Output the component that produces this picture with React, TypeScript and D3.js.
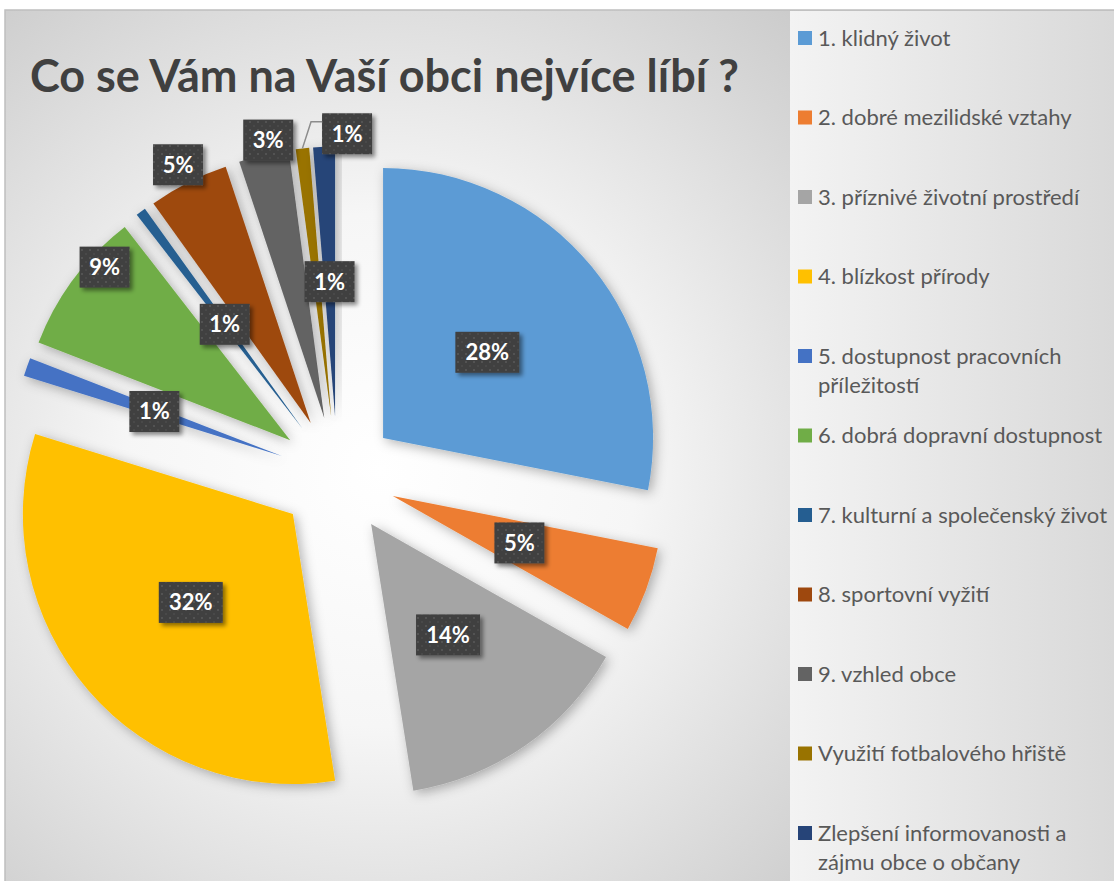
import React from "react";
import * as d3 from "d3";

const categories: string[][] = [
  ["1. klidný život"],
  ["2. dobré mezilidské vztahy"],
  ["3. příznivé životní prostředí"],
  ["4. blízkost přírody"],
  ["5. dostupnost pracovních", "příležitostí"],
  ["6. dobrá dopravní dostupnost"],
  ["7. kulturní a společenský život"],
  ["8. sportovní vyžití"],
  ["9. vzhled obce"],
  ["Využití fotbalového hřiště"],
  ["Zlepšení informovanosti a", "zájmu obce o občany"],
];
const values: number[] = [28.1, 5.1, 14.3, 32.3, 1.1, 8.6, 0.6, 4.8, 3.0, 0.8, 1.3];
const colors: string[] = [
  "#5B9BD5", "#ED7D31", "#A5A5A5", "#FFC000", "#4472C4", "#70AD47",
  "#255E91", "#9E480E", "#636363", "#997300", "#264478",
];
const title = "Co se Vám na Vaší obci nejvíce líbí ?";

// layout
const W = 1114, H = 881;
const CX = 337.5, CY = 475.5, R = 270, EXPLODE = 59;
// label placement (radius fraction from the slice vertex, optional absolute angle in degrees)
const labelPlace: { f: number; a?: number; leader?: boolean }[] = [
  { f: 0.5 }, { f: 0.5 }, { f: 0.5 }, { f: 0.5 }, { f: 0.5 },
  { f: 0.94, a: 313 }, { f: 0.48 }, { f: 1.075, a: 332.8 }, { f: 1.05, a: 348.6 },
  { f: 1.05, a: 3.2, leader: true }, { f: 0.5 },
];
const FONT = "Lato, 'Open Sans', 'DejaVu Sans', sans-serif";

export default function App() {
  const pie = d3.pie<number>().sort(null).value((d) => d).startAngle(0).endAngle(2 * Math.PI);
  const arcs = pie(values);
  const arc = d3.arc<d3.PieArcDatum<number>>().innerRadius(0).outerRadius(R);

  const legendX = 798;
  const legendY0 = 38;
  const legendStep = 79.5;

  return (
    <svg width={W} height={H} style={{ position: "absolute", left: 0, top: 0, display: "block" }}>
      <defs>
        <radialGradient id="bg" gradientUnits="userSpaceOnUse" cx={380} cy={470} r={640}>
          <stop offset="0" stopColor="#ffffff" />
          <stop offset="0.4" stopColor="#f6f6f6" />
          <stop offset="1" stopColor="#c9c9c9" />
        </radialGradient>
        <linearGradient id="lg" x1="0" y1="0" x2="1" y2="0">
          <stop offset="0" stopColor="#f3f3f3" />
          <stop offset="1" stopColor="#d9d9d9" />
        </linearGradient>
        <filter id="sliceShadow" x="-30%" y="-30%" width="160%" height="160%">
          <feDropShadow dx="3" dy="3" stdDeviation="6" floodColor="#000" floodOpacity="0.3" />
        </filter>
        <filter id="boxShadow" x="-30%" y="-30%" width="160%" height="160%">
          <feDropShadow dx="3" dy="3" stdDeviation="2" floodColor="#000" floodOpacity="0.45" />
        </filter>
        <pattern id="dots" width="8" height="8" patternUnits="userSpaceOnUse">
          <rect width="8" height="8" fill="#404040" />
          <circle cx="2" cy="2" r="0.9" fill="#5a5a5a" />
          <circle cx="6" cy="6" r="0.9" fill="#4e4e4e" />
        </pattern>
      </defs>
      <rect x={0} y={0} width={W} height={H} fill="#ffffff" />
      <rect x={5} y={10} width={W} height={H} fill="url(#bg)" stroke="#bfbfbf" strokeWidth={1.5} />
      <rect x={790} y={11} width={W - 790} height={H - 11} fill="url(#lg)" />

      <text x={30} y={92} fontFamily={FONT} fontWeight={700} fontSize={45} fill="#404040">
        {title}
      </text>

      <g>
        {arcs.map((a, i) => {
          const mid = (a.startAngle + a.endAngle) / 2;
          const tx = CX + EXPLODE * Math.sin(mid);
          const ty = CY - EXPLODE * Math.cos(mid);
          return (
            <path
              key={i}
              d={arc(a) || ""}
              transform={`translate(${tx},${ty})`}
              fill={colors[i]}
              filter="url(#sliceShadow)"
            />
          );
        })}
      </g>

      <g>
        {arcs.map((a, i) => {
          const mid = (a.startAngle + a.endAngle) / 2;
          const vx = CX + EXPLODE * Math.sin(mid);
          const vy = CY - EXPLODE * Math.cos(mid);
          const p = labelPlace[i];
          const ang = p.a !== undefined ? (p.a * Math.PI) / 180 : mid;
          const lx = vx + p.f * R * Math.sin(ang);
          const ly = vy - p.f * R * Math.cos(ang);
          const txt = `${Math.round(values[i])}%`;
          const bw = txt.length === 3 ? 64 : 50;
          const bh = 41;
          let leader = null;
          if (p.leader) {
            const sx = vx + R * Math.sin(mid);
            const sy = vy - R * Math.cos(mid);
            const ex = lx - bw / 2;
            const ey = ly - 12;
            leader = (
              <path
                d={`M${sx},${sy}L${ex - 11},${ey}L${ex},${ey}`}
                fill="none"
                stroke="#8c8c8c"
                strokeWidth={1.5}
              />
            );
          }
          return (
            <g key={i}>
              {leader}
              <rect
                x={lx - bw / 2}
                y={ly - bh / 2}
                width={bw}
                height={bh}
                fill="url(#dots)"
                filter="url(#boxShadow)"
              />
              <text
                x={lx}
                y={ly}
                dy="0.36em"
                textAnchor="middle"
                fontFamily={FONT}
                fontWeight={700}
                fontSize={22}
                fill="#ffffff"
              >
                {txt}
              </text>
            </g>
          );
        })}
      </g>

      <g>
        {categories.map((lines, i) => {
          const y = legendY0 + i * legendStep;
          return (
            <g key={i}>
              <rect x={legendX} y={y - 7} width={14} height={14} fill={colors[i]} />
              {lines.map((ln, j) => (
                <text
                  key={j}
                  x={legendX + 20}
                  y={y + j * 29}
                  dy="0.35em"
                  fontFamily={FONT}
                  fontSize={22}
                  fill="#595959"
                >
                  {ln}
                </text>
              ))}
            </g>
          );
        })}
      </g>
    </svg>
  );
}
